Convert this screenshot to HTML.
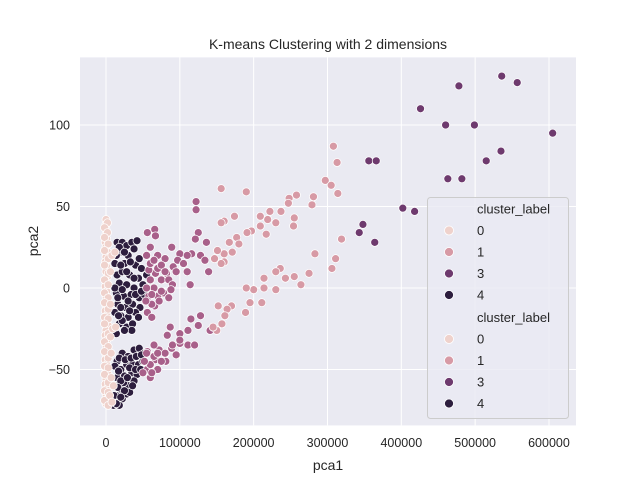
<!DOCTYPE html>
<html><head><meta charset="utf-8"><style>
html,body{margin:0;padding:0;background:#fff;}
svg{display:block;font-family:"Liberation Sans","DejaVu Sans",sans-serif;}
</style></head><body>
<svg id="chart" width="640" height="478" viewBox="0 0 640 478">
<rect x="80" y="57.4" width="496" height="368" fill="#eaeaf2"/>
<g id="grid"></g>
<g id="ticks"></g>
<g id="marks"></g>
<text x="328" y="49" text-anchor="middle" font-size="14" fill="#262626">K-means Clustering with 2 dimensions</text>
<text x="328" y="470" text-anchor="middle" font-size="14" fill="#262626">pca1</text>
<text x="38" y="241" text-anchor="middle" font-size="14" fill="#262626" transform="rotate(-90 38 241)">pca2</text>
<g id="legend">
<rect x="427.5" y="197.5" width="141" height="221" rx="3" fill="#eaeaf2" fill-opacity="0.8" stroke="#cccccc"/>
</g>
</svg>
<script>
const xTicks=[0,100000,200000,300000,400000,500000,600000];
const yTicks=[-50,0,50,100];
const clusterLabels=[0,1,2,3,4];
const clusterColors=["#efd2cc","#d79aa5","#a8608a","#6e3a6e","#2d1e3e"];
const legendLabels=["0","1","3","4"];
const legendColors=["#efd2cc","#d79aa5","#6e3a6e","#2d1e3e"];
const c0=[[0,42],[0,39],[0,36],[0,33],[1000,30],[-1000,28],[0,25],[2000,22],[0,19],[-1000,16],[1000,13],[0,10],[2000,7],[0,4],[-1000,1],[1000,-2],[0,-5],[2000,-8],[0,-11],[-1000,-14],[1000,-17],[0,-20],[3000,-23],[0,-26],[-1000,-29],[1000,-32],[0,-35],[2000,-38],[0,-41],[-1000,-44],[1000,-47],[0,-50],[3000,-53],[0,-56],[-1000,-59],[1000,-62],[0,-65],[2000,-68],[0,-71],[2000,40],[-2000,37],[2000,34],[-2000,31],[3000,27],[-2000,23],[3000,18],[-2000,14],[3000,9],[-2000,5],[3000,2],[-2000,-3],[3000,-6],[-2000,-9],[3000,-13],[-2000,-18],[3000,-19],[-2000,-22],[3000,-28],[-2000,-33],[3000,-36],[-2000,-39],[3000,-43],[-2000,-48],[3000,-49],[-2000,-53],[3000,-58],[-2000,-63],[3000,-64],[-2000,-69],[3000,-72],[8000,20],[6000,-10],[9000,-25],[7000,-55],[10000,-60],[5000,-66],[12000,22],[13000,-24],[6000,10],[7000,-40],[8000,-70],[6000,-30]];
const c4=[[15000,28],[22000,28],[28000,26],[35000,28],[42000,29],[20000,22],[30000,20],[25000,15],[40000,14],[48000,12],[15000,8],[22000,10],[32000,8],[44000,6],[18000,3],[28000,2],[38000,0],[50000,2],[14000,-3],[24000,-5],[34000,-4],[45000,-6],[16000,-10],[26000,-12],[36000,-10],[46000,-12],[20000,-17],[30000,-18],[40000,-15],[18000,-22],[28000,-24],[36000,-22],[14000,-28],[22000,-20],[12000,-15],[12000,0],[12000,15],[35000,-26],[52000,-4],[55000,8],[18000,25],[25000,22],[38000,24],[14000,20],[33000,16],[20000,14],[45000,18],[28000,10],[38000,6],[16000,-6],[30000,-8],[40000,-4],[22000,-1],[48000,-2],[20000,-12],[32000,-14],[44000,-18],[25000,-26],[17000,-17],[15000,-45],[22000,-40],[30000,-42],[38000,-38],[45000,-37],[52000,-40],[12000,-48],[20000,-50],[28000,-47],[36000,-47],[44000,-47],[50000,-45],[15000,-55],[25000,-54],[35000,-52],[42000,-53],[12000,-60],[20000,-62],[30000,-60],[38000,-57],[14000,-66],[22000,-68],[28000,-65],[10000,-72],[18000,-72],[24000,-58],[32000,-64],[18000,-43],[26000,-44],[34000,-43],[41000,-42],[48000,-41],[17000,-51],[32000,-49],[40000,-50],[47000,-50],[20000,-57],[29000,-55],[36000,-60],[16000,-61],[25000,-63],[11000,-66],[20000,-67],[14000,-71]];
const c2=[[122000,53],[122000,48],[125000,34],[121000,30],[136000,28],[116000,21],[128000,20],[134000,17],[139000,10],[114000,2],[100000,21],[89000,25],[97000,17],[91000,13],[110000,10],[82000,9],[75000,5],[67000,9],[66000,36],[56000,34],[67000,32],[58000,11],[78000,-3],[70000,-5],[66000,-11],[115000,-19],[128000,-17],[125000,-23],[141000,-26],[111000,-26],[100000,-28],[87000,-24],[83000,-29],[100000,-34],[111000,-35],[120000,-35],[95000,-41],[81000,-40],[72000,-38],[67000,-44],[56000,-50],[81000,-45],[56000,-39],[89000,-37],[60000,25],[70000,20],[80000,18],[60000,15],[70000,12],[85000,5],[60000,5],[65000,0],[75000,-2],[90000,2],[58000,-5],[62000,-10],[72000,-8],[85000,-6],[95000,10],[105000,15],[110000,20],[55000,-40],[65000,-42],[75000,-45],[60000,-47],[70000,-50],[50000,-52],[80000,-40],[90000,-35],[100000,-32],[65000,-35],[55000,20],[65000,17],[75000,14],[55000,0],[62000,-4],[80000,10],[88000,-1],[56000,-15],[62000,-18],[54000,-8],[60000,-55],[52000,-45],[70000,-40],[62000,-52]];
const c1=[[308000,87],[313000,77],[314000,58],[297000,66],[305000,63],[279000,51],[281000,56],[258000,57],[248000,55],[247000,52],[255000,43],[254000,38],[237000,47],[230000,40],[222000,47],[219000,42],[209000,44],[209000,38],[217000,33],[197000,35],[191000,34],[190000,59],[156000,61],[174000,44],[160000,41],[156000,40],[177000,31],[180000,27],[167000,28],[171000,22],[160000,21],[151000,23],[147000,18],[160000,16],[156000,15],[319000,30],[283000,21],[311000,18],[306000,12],[275000,9],[264000,2],[255000,7],[243000,6],[236000,12],[230000,10],[214000,6],[230000,-1],[214000,0],[200000,-1],[190000,0],[211000,-9],[195000,-9],[189000,-15],[170000,-11],[164000,-13],[152000,-11],[161000,-17],[157000,-22],[150000,-26],[145000,-24]];
const c3=[[426000,110],[478000,124],[536000,130],[557000,126],[460000,100],[499000,100],[605000,95],[535000,84],[515000,78],[356000,78],[366000,78],[463000,67],[482000,67],[402000,49],[418000,47],[348000,39],[343000,34],[364000,28]];
const X0=106,XS=73.83/100000,Y0=288,YS=1.63;
function sx(v){return X0+v*XS;}
function sy(v){return Y0-v*YS;}
const NS="http://www.w3.org/2000/svg";
const grid=document.getElementById('grid'),ticks=document.getElementById('ticks'),marks=document.getElementById('marks'),legend=document.getElementById('legend');
xTicks.forEach(t=>{
  const l=document.createElementNS(NS,'line');
  l.setAttribute('x1',sx(t));l.setAttribute('x2',sx(t));l.setAttribute('y1',57.4);l.setAttribute('y2',425.4);
  l.setAttribute('stroke','#fff');l.setAttribute('stroke-width','1');
  
  
  grid.appendChild(l);
  const tx=document.createElementNS(NS,'text');
  tx.setAttribute('x',sx(t));tx.setAttribute('y',447);tx.setAttribute('text-anchor','middle');tx.setAttribute('font-size','12.5');tx.setAttribute('fill','#262626');
  tx.textContent=String(t);
  
  
  ticks.appendChild(tx);
});
yTicks.forEach(t=>{
  const l=document.createElementNS(NS,'line');
  l.setAttribute('x1',80);l.setAttribute('x2',576);l.setAttribute('y1',sy(t));l.setAttribute('y2',sy(t));
  l.setAttribute('stroke','#fff');l.setAttribute('stroke-width','1');
  
  
  grid.appendChild(l);
  const tx=document.createElementNS(NS,'text');
  tx.setAttribute('x',70);tx.setAttribute('y',sy(t)+4.5);tx.setAttribute('text-anchor','end');tx.setAttribute('font-size','12.5');tx.setAttribute('fill','#262626');
  tx.textContent=t<0?'\u2212'+Math.abs(t):String(t);
  
  
  ticks.appendChild(tx);
});
const series=[[c4,4],[c0,0],[c2,2],[c1,1],[c3,3]];
series.forEach(([pts,k])=>{
  pts.forEach(p=>{
    const c=document.createElementNS(NS,'circle');
    c.setAttribute('cx',sx(p[0]));c.setAttribute('cy',sy(p[1]));c.setAttribute('r','4');
    c.setAttribute('fill',clusterColors[k]);c.setAttribute('stroke','#fff');c.setAttribute('stroke-width','0.75');
    
    
    marks.appendChild(c);
  });
});
[0,1].forEach(g=>{
  const base=209+g*108.5;
  const tt=document.createElementNS(NS,'text');
  tt.setAttribute('x',477);tt.setAttribute('y',base+4.5);tt.setAttribute('font-size','13');tt.setAttribute('fill','#262626');
  tt.textContent='cluster_label';
  
  
  legend.appendChild(tt);
  legendLabels.forEach((lab,i)=>{
    const y=base+21.5*(i+1);
    const c=document.createElementNS(NS,'circle');
    c.setAttribute('cx',449);c.setAttribute('cy',y);c.setAttribute('r','4.5');c.setAttribute('fill',legendColors[i]);c.setAttribute('stroke','#fff');c.setAttribute('stroke-width','0.75');
    
    
    legend.appendChild(c);
    const t=document.createElementNS(NS,'text');
    t.setAttribute('x',477);t.setAttribute('y',y+4.5);t.setAttribute('font-size','13');t.setAttribute('fill','#262626');
    t.textContent=lab;
    
    
    legend.appendChild(t);
  });
});
</script>
</body></html>
